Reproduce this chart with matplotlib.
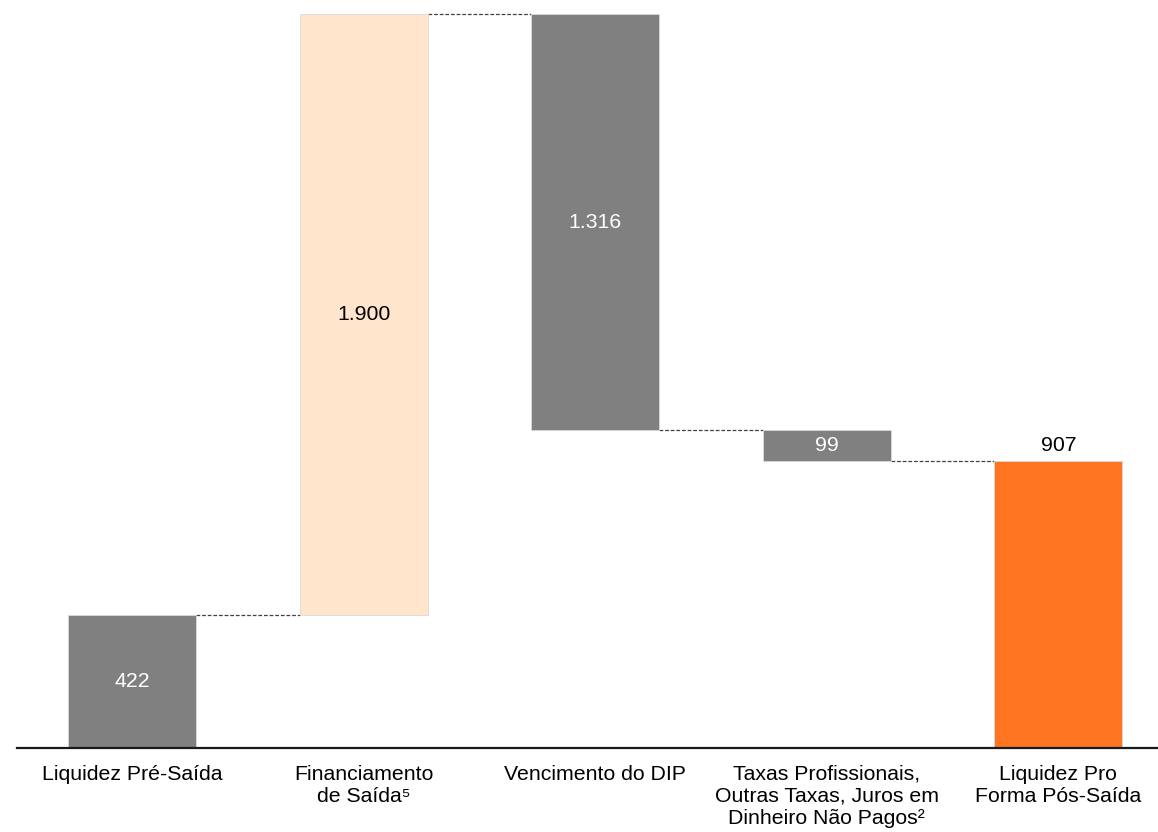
import matplotlib
matplotlib.use("Agg")
import matplotlib.pyplot as plt

plt.rcParams['font.family'] = ['Liberation Sans', 'DejaVu Sans']

categories = ["Liquidez Pré-Saída", "Financiamento\nde Saída⁵", "Vencimento do DIP",
              "Taxas Profissionais,\nOutras Taxas, Juros em\nDinheiro Não Pagos²",
              "Liquidez Pro\nForma Pós-Saída"]
changes = [422, 1900, -1316, -99, 907]
labels = ["422", "1.900", "1.316", "99", "907"]
kinds = ["total", "delta", "delta", "delta", "total"]

colors = ["#808080", "#FFE5CB", "#808080", "#808080", "#FF7522"]
text_colors = ["white", "black", "white", "white", "black"]

FS = 15.3

fig = plt.figure(figsize=(11.58, 8.32), dpi=100)
ax = fig.add_axes([17/1158, 84/832, 1 - 17/1158, 1 - 84/832])

bottoms, heights, ends = [], [], []
running = 0
for v, k in zip(changes, kinds):
    if k == "total":
        b, h = 0, v
        running = v
    else:
        if v >= 0:
            b, h = running, v
        else:
            b, h = running + v, -v
        running += v
    bottoms.append(b); heights.append(h); ends.append(running)

x = list(range(len(categories)))
w = 0.553
ax.bar(x, heights, bottom=bottoms, width=w, color=colors, edgecolor="#d9d9d9", linewidth=0.6, zorder=2)

for i in range(len(x) - 1):
    ax.plot([x[i] + w/2, x[i+1] - w/2], [ends[i], ends[i]], ls=(0, (3, 1.5)), color="#404040", lw=0.9, zorder=1)

for i in range(len(x)):
    if i == len(x) - 1:
        ax.text(x[i], bottoms[i] + heights[i] + 20, labels[i], ha="center", va="bottom", fontsize=FS, color=text_colors[i])
    else:
        ax.text(x[i], bottoms[i] + heights[i]/2, labels[i], ha="center", va="center", fontsize=FS, color=text_colors[i])

ax.set_xlim(-0.4975, (1158 - 132) / 231.6)
ax.set_ylim(0, 748 / 0.3161)
ax.set_xticks(x)
ax.set_xticklabels(categories, fontsize=FS, multialignment="center", linespacing=1.2)
ax.tick_params(axis="x", length=0, pad=12)
ax.set_yticks([])
for s in ["top", "right", "left"]:
    ax.spines[s].set_visible(False)
ax.spines["bottom"].set_linewidth(1.6)
ax.spines["bottom"].set_color("#1a1a1a")

fig.savefig("out.png", dpi=100)
